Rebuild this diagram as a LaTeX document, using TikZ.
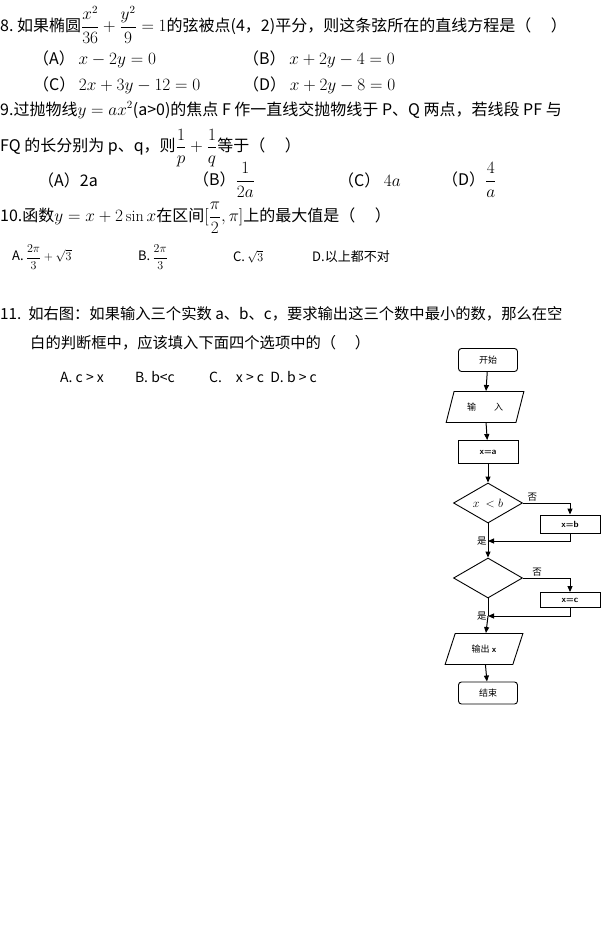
\documentclass[tikz,border=0pt]{standalone}
\usepackage{fontspec}
\usepackage{amsmath}
\newfontfamily\cjk{Noto Sans CJK SC}
\usetikzlibrary{shapes.geometric,arrows.meta}
\tikzset{
 txt/.style={anchor=west,inner sep=0pt,font=\cjk\fontsize{16}{18}\selectfont},
 fc/.style={font=\cjk\fontsize{9}{10}\selectfont},
 term/.style={draw,line width=0.9pt,rounded corners=3pt,minimum width=59pt,minimum height=23pt,fc},
 proc/.style={draw,line width=0.9pt,minimum width=60pt,minimum height=23pt,fc},
 io/.style={draw,line width=0.9pt,trapezium,trapezium left angle=70,trapezium right angle=110,minimum width=78pt,minimum height=31pt,fc,trapezium stretches=true},
 dec/.style={draw,line width=0.9pt,diamond,aspect=1.7,minimum width=69pt,minimum height=40pt,inner sep=0pt,fc},
 arr/.style={-{Triangle[length=6pt,width=5pt]},line width=1pt},
 ln/.style={line width=1pt},
 lbl/.style={font=\cjk\fontsize{9.5}{10}\selectfont,inner sep=1pt}
}
\begin{document}
\begin{tikzpicture}[x=1pt,y=-1pt]
\useasboundingbox[fill=white] (0,0) rectangle (602,931);
% questions
\node[txt] (q8) at (0,25) {8.\ 如果椭圆$\dfrac{x^2}{36}+\dfrac{y^2}{9}=1$的弦被点(4，2)平分，则这条弦所在的直线方程是（\quad\ ）};
\node[txt] (q8a) at (33,59) {（A） $x-2y=0$};
\node[txt] (q8b) at (243,59) {（B） $x+2y-4=0$};
\node[txt] (q8c) at (33,85) {（C） $2x+3y-12=0$};
\node[txt] (q8d) at (243,85) {（D） $x+2y-8=0$};
\node[txt] (q9) at (0,110) {9.过抛物线$y=ax^2$(a>0)的焦点 F 作一直线交抛物线于 P、Q 两点，若线段 PF 与};
\node[txt] (q9b) at (0,148) {FQ 的长分别为 p、q，则$\dfrac1p+\dfrac1q$等于（\quad\ ）};
\node[txt] (q9A) at (38,180) {（A）2a};
\node[txt] (q9B) at (193,180) {（B）$\dfrac{1}{2a}$};
\node[txt] (q9C) at (338,180) {（C） $4a$};
\node[txt] (q9D) at (442,180) {（D）$\dfrac{4}{a}$};
\node[txt] (q10) at (0,218) {10.函数$y=x+2\sin x$在区间$[\dfrac{\pi}{2},\pi]$上的最大值是（\quad\ ）};
\node[txt,font=\cjk\fontsize{13}{15}\selectfont] (q10A) at (12,257) {A.\,$\dfrac{2\pi}{3}+\sqrt3$};
\node[txt,font=\cjk\fontsize{13}{15}\selectfont] (q10B) at (138,257) {B.\,$\dfrac{2\pi}{3}$};
\node[txt,font=\cjk\fontsize{13}{15}\selectfont] (q10C) at (233,257) {C.\,$\sqrt3$};
\node[txt,font=\cjk\fontsize{13}{15}\selectfont] (q10D) at (312,257) {D.以上都不对};
\node[txt,font=\cjk\fontsize{15.3}{17}\selectfont] (q11) at (0,314) {11.\ \ 如右图：如果输入三个实数 a、b、c，要求输出这三个数中最小的数，那么在空};
\node[txt,font=\cjk\fontsize{15.3}{17}\selectfont] (q11b) at (30,343) {白的判断框中，应该填入下面四个选项中的（\quad\ ）};
\node[txt,font=\cjk\fontsize{14}{16}\selectfont] (o) at (60,377) {A.\ c > x\qquad\ B.\ b<c\qquad\ \ C.\quad x > c\ \ D.\ b > c};
% flowchart
\node[term] (s) at (488,360) {开始};
\node[io] (in) at (485,407) {输\qquad 入};
\node[proc] (xa) at (488,452) {\sffamily\bfseries x=a};
\node[dec] (d1) at (488,503) {\fontsize{13}{14}\selectfont$x\ <b$};
\node[proc,minimum height=18pt] (xb) at (570,524) {\sffamily\bfseries x=b};
\coordinate (m1) at (488,541);
\node[dec] (d2) at (488,578) {};
\node[proc,minimum height=15pt] (xc) at (570,600) {\sffamily\bfseries x=c};
\coordinate (m2) at (488,616);
\node[io] (out) at (484,649) {输出 \sffamily\bfseries x};
\node[term,minimum height=22pt] (e) at (488,693) {结束};
\draw[arr] (s) -- (in);
\draw[arr] (in) -- (xa);
\draw[arr] (xa) -- (d1);
\draw[arr] (d1.east) -- node[lbl,above,pos=0.2]{否} (d1.east -| xb) -- (xb.north);
\draw[ln] (d1.south) -- (m1) node[lbl,left]{是};
\draw[arr] (xb.south) |- (m1);
\draw[arr] (m1) -- (d2);
\draw[arr] (d2.east) -- node[lbl,above,pos=0.3]{否} (d2.east -| xc) -- (xc.north);
\draw[ln] (d2.south) -- (m2) node[lbl,left]{是};
\draw[arr] (xc.south) |- (m2);
\draw[arr] (m2) -- (out);
\draw[arr] (out) -- (e);
\end{tikzpicture}
\end{document}
